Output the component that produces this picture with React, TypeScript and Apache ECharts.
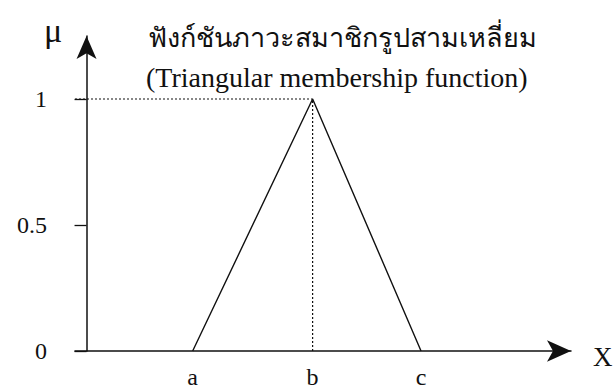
import React, { useEffect, useRef } from "react";
import * as echarts from "echarts";

// Triangular membership function μ(x) with corners a, b, c
const pointNames = ["a", "b", "c"];
const pointX = [2.3, 4.9, 7.25];
const muValues = [0, 1, 0];
const yTickValues = [0, 0.5, 1];
const yTickLabels = ["0", "0.5", "1"];

const titleThai = "ฟังก์ชันภาวะสมาชิกรูปสามเหลี่ยม";
const titleEnglish = "(Triangular membership function)";

const X_MIN = -0.25;
const X_MAX = 10.5;
const Y_MAX = 1.25;

const SERIF = "'Liberation Serif', 'DejaVu Serif', serif";
const INK = "#111";

export default function App() {
  const ref = useRef<HTMLDivElement>(null);

  useEffect(() => {
    if (!ref.current) return;
    const chart = echarts.init(ref.current, undefined, { renderer: "svg" });

    const triangle = pointX.map((x, i) => [x, muValues[i]]);
    const peakIndex = muValues.indexOf(Math.max(...muValues));
    const peakX = pointX[peakIndex];
    const peakY = muValues[peakIndex];

    chart.setOption({
      animation: false,
      backgroundColor: "#fff",
      grid: { left: 75, right: 43, top: 36, bottom: 35, containLabel: false },
      xAxis: {
        type: "value",
        min: X_MIN,
        max: X_MAX,
        splitLine: { show: false },
        axisLine: {
          onZero: true,
          symbol: ["none", "arrow"],
          symbolSize: [16, 24],
          lineStyle: { color: INK, width: 1.5 },
        },
        axisTick: { show: false },
        axisLabel: {
          customValues: pointX,
          formatter: (v: number) => {
            const i = pointX.findIndex((p) => Math.abs(p - v) < 1e-6);
            return i >= 0 ? pointNames[i] : "";
          },
          margin: 14,
          color: INK,
          fontFamily: SERIF,
          fontSize: 24,
        },
      },
      yAxis: {
        type: "value",
        min: 0,
        max: Y_MAX,
        splitLine: { show: false },
        axisLine: {
          onZero: true,
          symbol: ["none", "arrow"],
          symbolSize: [15, 23],
          lineStyle: { color: INK, width: 1.5 },
        },
        axisTick: {
          customValues: yTickValues,
          length: 12,
          lineStyle: { color: INK, width: 1.3 },
        },
        axisLabel: {
          customValues: yTickValues,
          formatter: (v: number) => {
            const i = yTickValues.findIndex((t) => Math.abs(t - v) < 1e-6);
            return i >= 0 ? yTickLabels[i] : "";
          },
          margin: 28,
          align: "right",
          verticalAlign: "middle",
          color: INK,
          fontFamily: SERIF,
          fontSize: 24,
        },
      },
      series: [
        {
          name: "μ",
          type: "line",
          data: triangle,
          symbol: "none",
          lineStyle: { color: INK, width: 1.4 },
          z: 3,
        },
        {
          name: "guide-h",
          type: "line",
          data: [
            [X_MIN, peakY],
            [peakX, peakY],
          ],
          symbol: "none",
          lineStyle: { color: INK, width: 1.2, type: [2, 2] },
          z: 2,
        },
        {
          name: "guide-v",
          type: "line",
          data: [
            [peakX, 0],
            [peakX, peakY],
          ],
          symbol: "none",
          lineStyle: { color: INK, width: 1.2, type: [2, 2] },
          z: 2,
        },
      ],
      graphic: [
        {
          type: "text",
          left: 148,
          top: 24,
          style: {
            text: titleThai,
            font: `27px ${SERIF}`,
            fill: INK,
          },
        },
        {
          type: "text",
          left: 146,
          top: 63,
          style: {
            text: titleEnglish,
            font: `28px ${SERIF}`,
            fill: INK,
          },
        },
        {
          type: "text",
          left: 44,
          top: 13,
          style: {
            text: "μ",
            font: `34px ${SERIF}`,
            fill: INK,
          },
        },
        {
          type: "text",
          left: 593,
          top: 343,
          style: {
            text: "X",
            font: `27px ${SERIF}`,
            fill: INK,
          },
        },
      ],
    });

    return () => chart.dispose();
  }, []);

  return (
    <div
      ref={ref}
      style={{ position: "absolute", left: 0, top: 0, width: 614, height: 389 }}
    />
  );
}
